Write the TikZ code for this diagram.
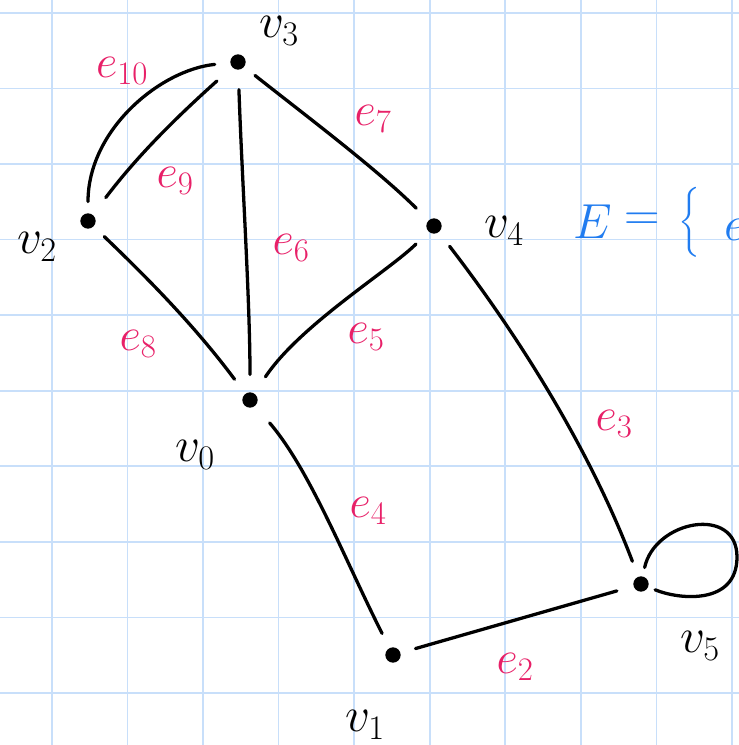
\RequirePackage{fix-cm}
\documentclass[tikz,border=0pt]{standalone}
\usepackage{amsmath}
\definecolor{gridc}{RGB}{200,223,250}
\definecolor{penpink}{RGB}{232,32,104}
\definecolor{penblue}{RGB}{32,124,240}
\begin{document}
\begin{tikzpicture}[x=0.03cm,y=-0.03cm,
  gridline/.style={draw=gridc,line width=1.4pt},
  edge/.style={line width=2.8pt,line cap=round,line join=round},
  vertex/.style={circle,fill=black,inner sep=0pt,minimum size=0.46cm},
  elab/.style={text=penpink,font=\fontsize{40}{40}\selectfont,inner sep=0pt},
  vlab/.style={text=black,font=\fontsize{42}{42}\selectfont,inner sep=0pt},
  blab/.style={text=penblue,font=\fontsize{42}{42}\selectfont,inner sep=0pt}]
\useasboundingbox (0,0) rectangle (739,745);
\clip (0,0) rectangle (739,745);
\fill[white] (0,0) rectangle (739,745);
\foreach \i in {0,...,9} {
  \draw[gridline] ({52+75.55*\i},0) -- ({52+75.55*\i},745);
  \draw[gridline] (0,{13+75.55*\i}) -- (739,{13+75.55*\i});
}
% vertices
\node[vertex] (v0) at (250,400) {};
\node[vertex] (v1) at (393,655) {};
\node[vertex] (v2) at (88,221) {};
\node[vertex] (v3) at (238,62) {};
\node[vertex] (v4) at (434,226) {};
\node[vertex] (v5) at (641,584) {};
\coordinate (loopR) at (737,557);
% edges
\draw[edge,shorten <=0.345cm,shorten >=0.465cm] (v2) .. controls (88,130) and (160,70) .. (v3);
\draw[edge,shorten <=0.645cm,shorten >=0.615cm] (v2) .. controls (138.5,154.4) and (177.5,116.4) .. (v3);
\draw[edge,shorten <=0.594cm,shorten >=0.525cm] (v3) .. controls (242,180) and (250,300) .. (v0);
\draw[edge,shorten <=0.414cm,shorten >=0.519cm] (v3) .. controls (305,115) and (378,170) .. (v4);
\draw[edge,shorten <=0.441cm,shorten >=0.54cm] (v2) .. controls (150.6,281) and (196,327.5) .. (v0);
\draw[edge,shorten <=0.525cm,shorten >=0.6cm] (v4) .. controls (390,270) and (300,325) .. (v0);
\draw[edge,shorten <=0.531cm,shorten >=0.492cm] (v4) .. controls (524,343) and (592,455) .. (v5);
\draw[edge,shorten <=0.669cm,shorten >=0.489cm] (v0) .. controls (310,470) and (345,560) .. (v1);
\draw[edge,shorten <=0.465cm,shorten >=0.516cm] (v1) -- (v5);
\draw[edge,shorten <=0.27cm,shorten >=0.22cm] (v5) .. controls (655,520) and (737,505) .. (loopR) .. controls (737,605) and (680,600) .. (v5);
% edge labels
\node[elab] (l10) at (122,71) {$e_{10}$};
\node[elab] (l9) at (175,181) {$e_{9}$};
\node[elab] (l6) at (291,248) {$e_{6}$};
\node[elab] (l8) at (138,344) {$e_{8}$};
\node[elab] (l7) at (373,119) {$e_{7}$};
\node[elab] (l5) at (366,337) {$e_{5}$};
\node[elab] (l4) at (368,511) {$e_{4}$};
\node[elab] (l3) at (614,424) {$e_{3}$};
\node[elab] (l2) at (515,667) {$e_{2}$};
% vertex labels
\node[vlab] (n3) at (279,31) {$v_{3}$};
\node[vlab] (n2) at (37,247) {$v_{2}$};
\node[vlab] (n4) at (504,231) {$v_{4}$};
\node[vlab] (n0) at (195,455) {$v_{0}$};
\node[vlab] (n1) at (365,725) {$v_{1}$};
\node[vlab] (n5) at (700,646) {$v_{5}$};
% set E
\node[blab] (bE) at (593,222) {$E$};
\node[blab] (bEq) at (642,222) {$=$};
\node[blab] (bBr) at (689,222) {$\big\{$};
\node[blab,anchor=west] (bE1) at (724,230) {$e$};
\end{tikzpicture}
\end{document}
